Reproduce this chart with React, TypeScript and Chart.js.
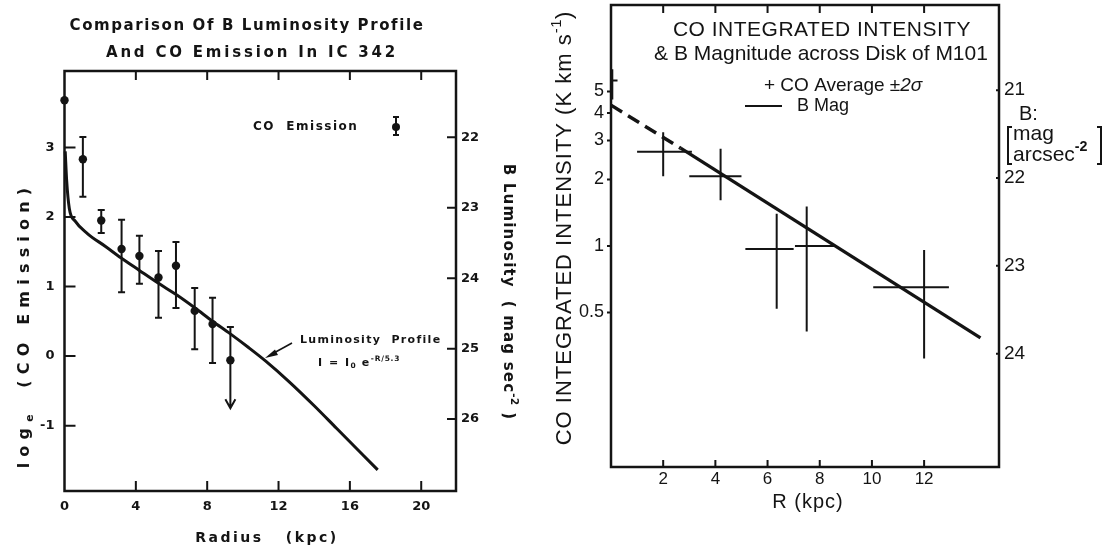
import React, { useEffect, useRef } from "react";
import { Chart, registerables } from "chart.js";

Chart.register(...registerables);

// ================= Left panel: IC 342 =================
const leftXTicks = [0, 4, 8, 12, 16, 20];
const leftYTicks = [-1, 0, 1, 2, 3];
const leftYTickLabels = ["-1", "0", "1", "2", "3"];
const leftMagTicks = [22, 23, 24, 25, 26];

// CO emission (log_e) vs radius (kpc)
const coRadius = [0, 1.03, 2.06, 3.2, 4.2, 5.27, 6.25, 7.3, 8.3, 9.3];
const coLogEmission = [3.68, 2.83, 1.95, 1.54, 1.44, 1.13, 1.3, 0.65, 0.46, -0.06];
const coErrHigh = [null, 3.15, 2.1, 1.96, 1.73, 1.51, 1.64, 0.98, 0.84, 0.42];
const coErrLow = [null, 2.29, 1.77, 0.92, 1.04, 0.55, 0.69, 0.1, -0.1, -0.75];
const coUpperLimit = [false, false, false, false, false, false, false, false, false, true];

// B luminosity profile (mag sec^-2) vs radius (kpc)
const profileRadius = [0.04, 0.12, 0.27, 0.6, 1.3, 2.3, 3.16, 4.2, 5.25, 6.3, 7.3, 8.3, 9.3, 10.3, 11.3, 12.6, 14.0, 15.25, 17.56];
const profileMag = [22.2, 22.61, 23.01, 23.19, 23.37, 23.55, 23.71, 23.89, 24.07, 24.24, 24.42, 24.61, 24.79, 24.98, 25.18, 25.47, 25.81, 26.13, 26.72];

// ================= Right panel: M101 =================
const rightXTicks = [2, 4, 6, 8, 10, 12];
const rightYTicks = [0.5, 1, 2, 3, 4, 5];
const rightYTickLabels = ["0.5", "1", "2", "3", "4", "5"];
const rightMagTicks = [21, 22, 23, 24];

// CO average ±2σ (K km s^-1) vs R (kpc)
const coAvgR = [0.05, 2.0, 4.2, 6.35, 7.5, 12.0];
const coAvgI = [5.6, 2.67, 2.07, 0.97, 1.0, 0.65];
const coAvgRLow = [0, 1.0, 3.0, 5.15, 7.05, 10.05];
const coAvgRHigh = [0.25, 3.1, 5.0, 7.0, 8.55, 12.95];
const coAvgILow = [4.6, 2.07, 1.61, 0.52, 0.41, 0.31];
const coAvgIHigh = [6.3, 3.27, 2.75, 1.4, 1.51, 0.96];

// B magnitude (mag arcsec^-2) vs R (kpc)
const bMagDashedR = [0, 2.67];
const bMagDashed = [21.17, 21.66];
const bMagR = [2.67, 14.16];
const bMag = [21.66, 23.82];

// ================= helpers =================
const INK = "#141414";
const LFONT = "'DejaVu Sans', sans-serif";
const RFONT = "'Liberation Sans', Arial, sans-serif";

type Seg = { t: string; sub?: boolean; sup?: boolean; italic?: boolean; bold?: boolean };
type TOpts = { size: number; family: string; weight?: string; spacing?: number; align?: "left" | "center"; rotate?: number };

function drawRich(ctx: any, segs: Seg[], x: number, y: number, o: TOpts) {
  ctx.save();
  ctx.translate(x, y);
  if (o.rotate) ctx.rotate(o.rotate);
  ctx.fillStyle = INK;
  ctx.textBaseline = "middle";
  ctx.textAlign = "left";
  const parts = segs.map((s) => {
    const small = s.sub || s.sup;
    const sz = small ? o.size * 0.68 : o.size;
    const w8 = s.bold ? "bold" : o.weight || "normal";
    const font = `${s.italic ? "italic " : ""}${w8} ${sz}px ${o.family}`;
    const sp = (o.spacing || 0) * (small ? 0.5 : 1);
    ctx.font = font;
    ctx.letterSpacing = `${sp}px`;
    const w = ctx.measureText(s.t).width;
    return { s, font, sp, w };
  });
  const total = parts.reduce((a, p) => a + p.w, 0);
  let cx = o.align === "center" ? -total / 2 : 0;
  for (const p of parts) {
    ctx.font = p.font;
    ctx.letterSpacing = `${p.sp}px`;
    const dy = p.s.sup ? -o.size * 0.38 : p.s.sub ? o.size * 0.3 : 0;
    ctx.fillText(p.s.t, cx, dy);
    cx += p.w;
  }
  ctx.restore();
}

const setTicks = (values: number[]) => (scale: any) => {
  scale.ticks = values.map((v) => ({ value: v }));
};
const labelFrom = (values: number[], labels: string[]) => (v: any) => {
  const i = values.findIndex((t) => Math.abs(t - Number(v)) < 1e-9);
  return i >= 0 ? labels[i] : "";
};
const fixWidth = (w: number) => (s: any) => {
  s.width = w;
  s.paddingTop = 0; s.paddingBottom = 0; s.paddingLeft = 0; s.paddingRight = 0;
};
const fixHeight = (h: number) => (s: any) => {
  s.height = h;
  s.paddingTop = 0; s.paddingBottom = 0; s.paddingLeft = 0; s.paddingRight = 0;
};

// ================= left decorations =================
const leftDecor = {
  id: "leftDecor",
  beforeDatasetsDraw(chart: any) {
    const { ctx, chartArea: a, scales } = chart;
    const x = scales.x, y = scales.y, y2 = scales.y2;
    ctx.save();
    ctx.strokeStyle = INK;
    ctx.lineWidth = 2.5;
    ctx.strokeRect(a.left, a.top, a.right - a.left, a.bottom - a.top);
    ctx.lineWidth = 2;
    ctx.beginPath();
    x.ticks.forEach((t: any) => {
      if (t.value <= 0) return;
      const px = x.getPixelForValue(t.value);
      ctx.moveTo(px, a.bottom); ctx.lineTo(px, a.bottom - 10);
      ctx.moveTo(px, a.top); ctx.lineTo(px, a.top + 9);
    });
    y.ticks.forEach((t: any) => {
      const py = y.getPixelForValue(t.value);
      ctx.moveTo(a.left, py); ctx.lineTo(a.left + 11, py);
    });
    y2.ticks.forEach((t: any) => {
      const py = y2.getPixelForValue(t.value);
      ctx.moveTo(a.right, py); ctx.lineTo(a.right - 9, py);
    });
    ctx.stroke();

    // error bars
    ctx.lineWidth = 2;
    coRadius.forEach((r, i) => {
      const hi = coErrHigh[i], lo = coErrLow[i];
      if (hi == null || lo == null) return;
      const px = x.getPixelForValue(r);
      const pHi = y.getPixelForValue(hi);
      const pLo = y.getPixelForValue(lo);
      ctx.beginPath();
      ctx.moveTo(px, pHi); ctx.lineTo(px, pLo);
      ctx.moveTo(px - 3.5, pHi); ctx.lineTo(px + 3.5, pHi);
      if (coUpperLimit[i]) {
        ctx.moveTo(px - 5, pLo - 9); ctx.lineTo(px, pLo); ctx.lineTo(px + 5, pLo - 9);
      } else {
        ctx.moveTo(px - 3.5, pLo); ctx.lineTo(px + 3.5, pLo);
      }
      ctx.stroke();
    });
    ctx.restore();
  },
  afterDraw(chart: any) {
    const { ctx } = chart;
    ctx.save();
    // legend marker: CO Emission
    ctx.strokeStyle = INK; ctx.fillStyle = INK; ctx.lineWidth = 2;
    ctx.beginPath();
    ctx.moveTo(396, 117); ctx.lineTo(396, 135);
    ctx.moveTo(393, 117); ctx.lineTo(399, 117);
    ctx.moveTo(393, 135); ctx.lineTo(399, 135);
    ctx.stroke();
    ctx.beginPath(); ctx.arc(396, 127, 4, 0, Math.PI * 2); ctx.fill();
    // pointer to the profile
    ctx.lineWidth = 1.6;
    ctx.beginPath(); ctx.moveTo(292, 343); ctx.lineTo(272, 354); ctx.stroke();
    ctx.beginPath(); ctx.moveTo(265, 358); ctx.lineTo(275, 349.5); ctx.lineTo(278, 355); ctx.closePath(); ctx.fill();
    ctx.restore();

    const b = { family: LFONT, weight: "bold" };
    drawRich(ctx, [{ t: "Comparison Of B Luminosity Profile" }], 247, 26, { ...b, size: 15, spacing: 1.6, align: "center" });
    drawRich(ctx, [{ t: "And CO Emission In IC 342" }], 252, 53, { ...b, size: 15, spacing: 2.8, align: "center" });
    drawRich(ctx, [{ t: "log" }, { t: "e", sub: true }, { t: "  (CO Emission)" }], 25, 325, { ...b, size: 16, spacing: 6.2, align: "center", rotate: -Math.PI / 2 });
    drawRich(ctx, [{ t: "B Luminosity  ( mag sec" }, { t: "-2", sup: true }, { t: " )" }], 508, 292, { ...b, size: 15, spacing: 1.2, align: "center", rotate: Math.PI / 2 });
    drawRich(ctx, [{ t: "Radius   (kpc)" }], 267, 538, { ...b, size: 14, spacing: 2.5, align: "center" });
    drawRich(ctx, [{ t: "CO  Emission" }], 253, 127, { ...b, size: 12, spacing: 1.5, align: "left" });
    drawRich(ctx, [{ t: "Luminosity  Profile" }], 300, 340, { ...b, size: 11, spacing: 1.3, align: "left" });
    drawRich(ctx, [{ t: "I = I" }, { t: "0", sub: true }, { t: " e" }, { t: "-R/5.3", sup: true }], 318, 363, { ...b, size: 11, spacing: 1.5, align: "left" });
  },
};

// ================= right decorations =================
const rightDecor = {
  id: "rightDecor",
  beforeDatasetsDraw(chart: any) {
    const { ctx, chartArea: a, scales } = chart;
    const x = scales.x, y = scales.y, y2 = scales.y2;
    ctx.save();
    ctx.strokeStyle = INK;
    ctx.lineWidth = 2.5;
    ctx.strokeRect(a.left, a.top, a.right - a.left, a.bottom - a.top);
    ctx.lineWidth = 2;
    ctx.beginPath();
    x.ticks.forEach((t: any) => {
      const px = x.getPixelForValue(t.value);
      ctx.moveTo(px, a.bottom); ctx.lineTo(px, a.bottom - 7);
      ctx.moveTo(px, a.top); ctx.lineTo(px, a.top + 8);
    });
    y.ticks.forEach((t: any) => {
      const py = y.getPixelForValue(t.value);
      ctx.moveTo(a.left, py); ctx.lineTo(a.left - 4, py);
    });
    y2.ticks.forEach((t: any) => {
      const py = y2.getPixelForValue(t.value);
      ctx.moveTo(a.right, py); ctx.lineTo(a.right - 3, py);
    });
    ctx.stroke();

    // CO average crosses
    ctx.lineWidth = 2;
    ctx.beginPath();
    coAvgR.forEach((r, i) => {
      const px = x.getPixelForValue(r);
      const py = y.getPixelForValue(coAvgI[i]);
      ctx.moveTo(Math.max(a.left, x.getPixelForValue(coAvgRLow[i])), py);
      ctx.lineTo(x.getPixelForValue(coAvgRHigh[i]), py);
      ctx.moveTo(px, y.getPixelForValue(coAvgILow[i]));
      ctx.lineTo(px, y.getPixelForValue(coAvgIHigh[i]));
    });
    ctx.stroke();
    ctx.restore();
  },
  afterDraw(chart: any) {
    const { ctx } = chart;
    const f = { family: RFONT, weight: "normal" };
    drawRich(ctx, [{ t: "CO INTEGRATED INTENSITY" }], 282, 30, { ...f, size: 21, spacing: 0.5, align: "center" });
    drawRich(ctx, [{ t: "& B Magnitude across Disk of M101" }], 281, 54, { ...f, size: 21, align: "center" });
    drawRich(ctx, [{ t: "+ CO Average \u00b1" }, { t: "2\u03c3", italic: true }], 224, 86, { ...f, size: 19, align: "left" });
    drawRich(ctx, [{ t: "B Mag" }], 257, 106, { ...f, size: 18, align: "left" });
    ctx.save();
    ctx.strokeStyle = INK; ctx.lineWidth = 2;
    ctx.beginPath(); ctx.moveTo(205, 106); ctx.lineTo(242, 106); ctx.stroke();
    // brackets of the right axis unit
    ctx.beginPath();
    ctx.moveTo(472, 127); ctx.lineTo(468, 127); ctx.lineTo(468, 164); ctx.lineTo(472, 164);
    ctx.moveTo(557, 127); ctx.lineTo(561, 127); ctx.lineTo(561, 164); ctx.lineTo(557, 164);
    ctx.stroke();
    ctx.restore();
    drawRich(ctx, [{ t: "CO INTEGRATED INTENSITY (K km s" }, { t: "-1", sup: true }, { t: ")" }], 25, 228, { ...f, size: 22, spacing: 1, align: "center", rotate: -Math.PI / 2 });
    drawRich(ctx, [{ t: "R (kpc)" }], 268, 502, { ...f, size: 20, spacing: 1, align: "center" });
    drawRich(ctx, [{ t: "B:" }], 479, 114, { ...f, size: 20, align: "left" });
    drawRich(ctx, [{ t: "mag" }], 473, 134, { ...f, size: 21, align: "left" });
    drawRich(ctx, [{ t: "arcsec" }, { t: "-2", sup: true, bold: true }], 473, 155, { ...f, size: 21, align: "left" });
  },
};

function LeftChart() {
  const ref = useRef<HTMLCanvasElement>(null);
  useEffect(() => {
    const tickFont = { family: LFONT, size: 13, weight: "bold" as const };
    const chart = new Chart(ref.current as HTMLCanvasElement, {
      type: "scatter",
      data: {
        datasets: [
          {
            label: "CO Emission",
            data: coRadius.map((r, i) => ({ x: r, y: coLogEmission[i] })),
            yAxisID: "y",
            pointRadius: 4.2,
            pointBackgroundColor: INK,
            pointBorderColor: INK,
            pointBorderWidth: 0,
            showLine: false,
            clip: false,
          } as any,
          {
            label: "Luminosity Profile",
            data: profileRadius.map((r, i) => ({ x: r, y: profileMag[i] })),
            yAxisID: "y2",
            showLine: true,
            borderColor: INK,
            borderWidth: 3,
            pointRadius: 0,
            cubicInterpolationMode: "monotone",
            clip: false,
          } as any,
        ],
      },
      options: {
        responsive: false,
        animation: false,
        devicePixelRatio: 1,
        events: [],
        layout: { padding: { top: 71, left: 0, right: 0, bottom: 0 } },
        plugins: { legend: { display: false }, tooltip: { enabled: false } },
        scales: {
          x: {
            type: "linear", position: "bottom", min: 0, max: 21.95, bounds: "data",
            grid: { display: false, drawTicks: false }, border: { display: false },
            afterFit: fixHeight(59),
            afterBuildTicks: setTicks(leftXTicks),
            ticks: { padding: 8, color: INK, font: tickFont, maxRotation: 0, autoSkip: false },
          },
          y: {
            type: "linear", position: "left", min: -1.94, max: 4.1, bounds: "data",
            grid: { display: false, drawTicks: false }, border: { display: false },
            afterFit: fixWidth(64.5),
            afterBuildTicks: setTicks(leftYTicks),
            ticks: { padding: 10, color: INK, font: tickFont, autoSkip: false, callback: labelFrom(leftYTicks, leftYTickLabels) },
          },
          y2: {
            type: "linear", position: "right", min: 21.06, max: 27.02, reverse: true, bounds: "data",
            grid: { display: false, drawTicks: false }, border: { display: false },
            afterFit: fixWidth(84),
            afterBuildTicks: setTicks(leftMagTicks),
            ticks: { padding: 5, color: INK, font: tickFont, autoSkip: false },
          },
        },
      } as any,
      plugins: [leftDecor],
    });
    return () => chart.destroy();
  }, []);
  return <canvas ref={ref} width={540} height={550} style={{ position: "absolute", left: 0, top: 0, width: 540, height: 550 }} />;
}

function RightChart() {
  const ref = useRef<HTMLCanvasElement>(null);
  useEffect(() => {
    const yFont = { family: RFONT, size: 18 };
    const chart = new Chart(ref.current as HTMLCanvasElement, {
      type: "scatter",
      data: {
        datasets: [
          {
            label: "CO Average ±2σ",
            data: coAvgR.map((r, i) => ({ x: r, y: coAvgI[i] })),
            yAxisID: "y",
            pointRadius: 0,
            showLine: false,
            clip: false,
          } as any,
          {
            label: "B Mag (extrapolated)",
            data: bMagDashedR.map((r, i) => ({ x: r, y: bMagDashed[i] })),
            yAxisID: "y2",
            showLine: true,
            borderColor: INK,
            borderWidth: 3.5,
            borderDash: [13, 7],
            pointRadius: 0,
            clip: false,
          } as any,
          {
            label: "B Mag",
            data: bMagR.map((r, i) => ({ x: r, y: bMag[i] })),
            yAxisID: "y2",
            showLine: true,
            borderColor: INK,
            borderWidth: 3.3,
            pointRadius: 0,
            clip: false,
          } as any,
        ],
      },
      options: {
        responsive: false,
        animation: false,
        devicePixelRatio: 1,
        events: [],
        layout: { padding: { top: 5, left: 0, right: 0, bottom: 0 } },
        plugins: { legend: { display: false }, tooltip: { enabled: false } },
        scales: {
          x: {
            type: "linear", position: "bottom", min: 0, max: 14.87, bounds: "data",
            grid: { display: false, drawTicks: false }, border: { display: false },
            afterFit: fixHeight(83),
            afterBuildTicks: setTicks(rightXTicks),
            ticks: { padding: 2, color: INK, font: { family: RFONT, size: 17 }, maxRotation: 0, autoSkip: false },
          },
          y: {
            type: "logarithmic", position: "left", min: 0.1, max: 12.31, bounds: "data",
            grid: { display: false, drawTicks: false }, border: { display: false },
            afterFit: fixWidth(71),
            afterBuildTicks: setTicks(rightYTicks),
            ticks: { padding: 7, color: INK, font: yFont, autoSkip: false, callback: labelFrom(rightYTicks, rightYTickLabels) },
          },
          y2: {
            type: "linear", position: "right", min: 20.03, max: 25.29, reverse: true, bounds: "data",
            grid: { display: false, drawTicks: false }, border: { display: false },
            afterFit: fixWidth(107),
            afterBuildTicks: setTicks(rightMagTicks),
            ticks: { padding: 5, color: INK, font: { family: RFONT, size: 19 }, autoSkip: false },
          },
        },
      } as any,
      plugins: [rightDecor],
    });
    return () => chart.destroy();
  }, []);
  return <canvas ref={ref} width={566} height={550} style={{ position: "absolute", left: 540, top: 0, width: 566, height: 550 }} />;
}

export default function App() {
  return (
    <div style={{ position: "fixed", left: 0, top: 0, width: 1106, height: 550, background: "#fff", overflow: "hidden" }}>
      <LeftChart />
      <RightChart />
    </div>
  );
}
